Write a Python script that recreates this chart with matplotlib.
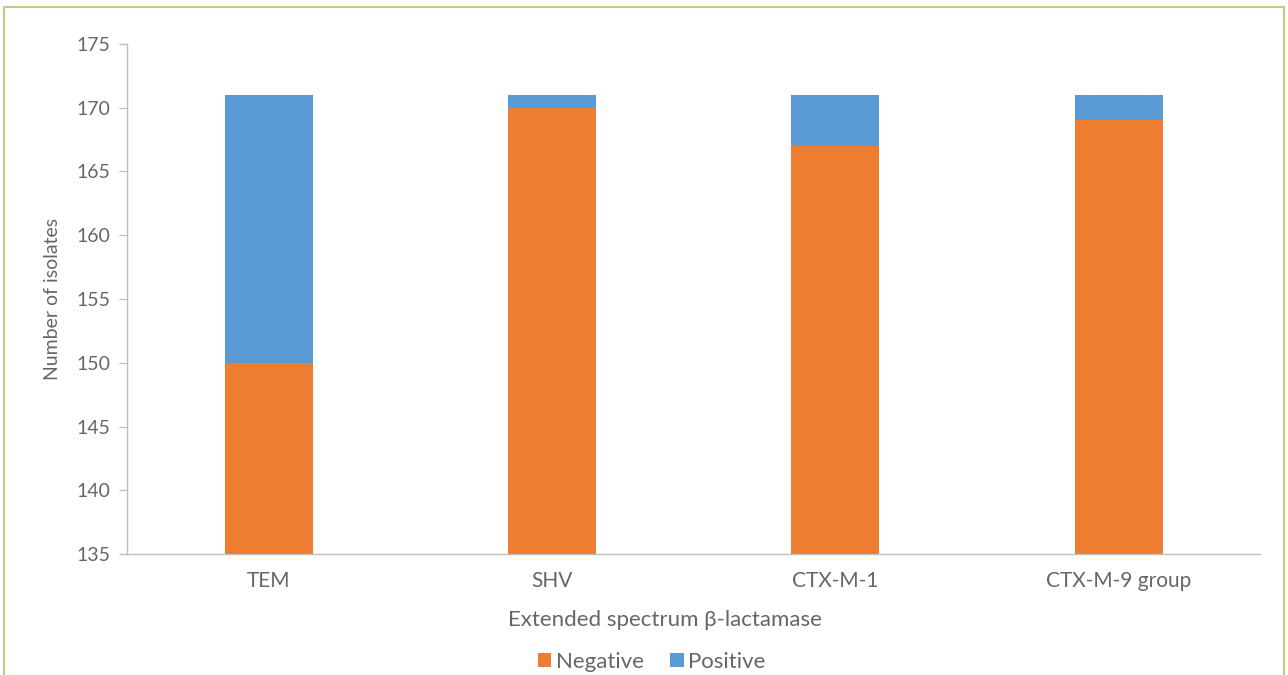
import matplotlib.pyplot as plt
from matplotlib.patches import Rectangle

# 数据
categories = ["TEM", "SHV", "CTX-M-1", "CTX-M-9 group"]
negative = [150, 170, 167, 169]
positive = [21, 1, 4, 2]

ORANGE = "#ED7D31"
BLUE = "#5B9BD5"
TEXT = "#666666"

plt.rcParams['font.family'] = ['Lato', 'DejaVu Sans']

fig = plt.figure(figsize=(12.88, 6.75), dpi=100)
ax = fig.add_axes([0.0986, 0.179, 0.880, 0.756])

x = range(len(categories))
ax.bar(x, negative, width=0.31, color=ORANGE, label="Negative")
ax.bar(x, positive, width=0.31, bottom=negative, color=BLUE, label="Positive")

ax.set_ylim(135, 175)
ax.set_yticks(range(135, 176, 5))
ax.set_xlim(-0.5, len(categories) - 0.5)
ax.set_xticks(list(x))
ax.set_xticklabels(categories)

for s in ["top", "right"]:
    ax.spines[s].set_visible(False)
for s in ["left", "bottom"]:
    ax.spines[s].set_color("#bfbfbf")
    ax.spines[s].set_linewidth(1.0)
ax.tick_params(axis="y", colors="#bfbfbf", labelcolor=TEXT, labelsize=14, length=6, width=1.0, pad=6)
ax.tick_params(axis="x", length=0, labelcolor=TEXT, labelsize=15, pad=12)

ax.set_ylabel("Number of isolates", color=TEXT, fontsize=14, labelpad=11)

# x 轴标题 (相对整张图定位)
fig.text(0.516, 0.081, "Extended spectrum β-lactamase", color=TEXT, fontsize=16,
         ha="center", va="center")

ax.legend(loc="center", bbox_to_anchor=(0.506, 0.02), bbox_transform=fig.transFigure,
          ncol=2, frameon=False, fontsize=16, labelcolor=TEXT, handlelength=0.6,
          handleheight=0.6, handletextpad=0.2, columnspacing=1.2)

# 外框
fig.patches.append(Rectangle((0.003, -0.01), 0.994, 1.0, transform=fig.transFigure,
                             fill=False, edgecolor="#b5d37a", linewidth=1.5))

fig.savefig("out.png", dpi=100)
